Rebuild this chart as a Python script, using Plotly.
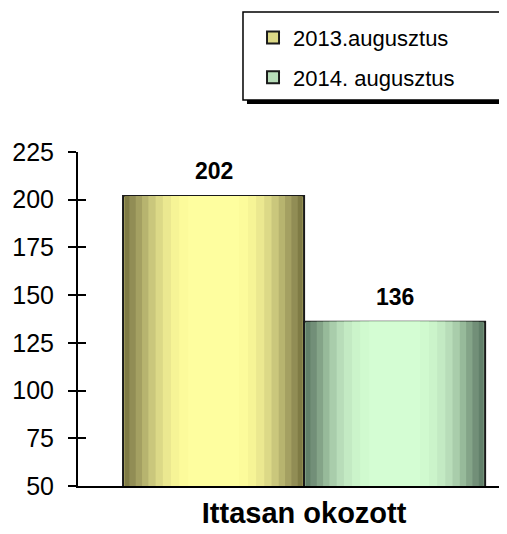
import plotly.graph_objects as go

# data
categories = ["Ittasan okozott"]
series_names = ["2013.augusztus", "2014. augusztus"]
values_2013 = [202]
values_2014 = [136]
y_ticks = [50, 75, 100, 125, 150, 175, 200, 225]

# layered shades to fake the cylinder-like gradient of the original bars
shades_2013 = ["#7f7b45", "#918d55", "#a4a062", "#b7b46f", "#cac77c", "#dcd987",
               "#ebe890", "#f6f496", "#fcfb9b", "#fefe9f"]
shades_2014 = ["#62806a", "#728f78", "#84a488", "#97ba9a", "#a9cdab", "#b8ddb9",
               "#c3eac3", "#cbf4ca", "#d0facf", "#d4fdd3"]
layer_widths = [1.0, 0.93, 0.86, 0.79, 0.72, 0.64, 0.56, 0.47, 0.38, 0.28]

font_main = "Arial, Liberation Sans, sans-serif"
bar_w = 0.422

fig = go.Figure()
annotations = []

for i, (name, vals, shades) in enumerate([(series_names[0], values_2013, shades_2013),
                                         (series_names[1], values_2014, shades_2014)]):
    center = -bar_w / 2 if i == 0 else bar_w / 2
    for k, (lw, col) in enumerate(zip(layer_widths, shades)):
        w = bar_w * lw
        first = k == 0
        fig.add_trace(go.Bar(
            x=categories,
            y=vals,
            name=name,
            legendgroup=name,
            showlegend=first,
            width=w,
            offset=center - w / 2,
            marker=dict(color=shades[5] if first else col,
                        line=dict(color="#1a1a1a" if first else col, width=2 if first else 0)),
            hoverinfo="skip" if not first else None,
        ))
        if first:
            # outer shade inside the border (legend keeps a mid colour)
            fig.add_trace(go.Bar(
                x=categories, y=vals, showlegend=False, width=w - 0.006,
                offset=center - (w - 0.006) / 2,
                marker=dict(color=col, line=dict(width=0)),
                hoverinfo="skip",
            ))
    # value label above the bar
    annotations.append(dict(
        x=center, y=vals[0], xref="x", yref="y",
        text=f"<b>{vals[0]}</b>", showarrow=False,
        yanchor="bottom", yshift=10,
        font=dict(family=font_main, size=23, color="black"),
    ))

# the page body adds an 8px offset, so margins are shifted accordingly
fig.update_layout(
    width=507,
    height=534,
    barmode="overlay",
    plot_bgcolor="white",
    paper_bgcolor="white",
    margin=dict(l=70, r=8, t=144, b=56),
    font=dict(family=font_main, color="black"),
    showlegend=True,
    legend=dict(
        x=0.408, y=1.405, xanchor="left", yanchor="top",
        font=dict(size=22, family=font_main),
        bgcolor="rgba(0,0,0,0)",
        tracegroupgap=8,
    ),
    xaxis=dict(
        range=[-0.527, 0.473],
        showline=True, linecolor="black", linewidth=1.5,
        ticks="", showgrid=False, automargin=False,
        tickfont=dict(size=29, family=font_main, weight="bold"),
    ),
    yaxis=dict(
        range=[50, 225],
        tickvals=y_ticks,
        showline=True, linecolor="black", linewidth=2,
        ticks="outside", ticklen=8, tickwidth=2, tickcolor="black",
        ticklabelstandoff=9, automargin=False,
        showgrid=False, zeroline=False,
        tickfont=dict(size=25, family=font_main),
    ),
    yaxis2=dict(
        range=[50, 225],
        tickvals=y_ticks,
        overlaying="y", side="left", anchor="x",
        showline=False, automargin=False,
        ticks="inside", ticklen=8, tickwidth=2, tickcolor="black",
        showticklabels=False, showgrid=False, zeroline=False,
    ),
    annotations=annotations,
    shapes=[
        # legend shadow and box
        dict(type="rect", xref="paper", yref="paper",
             x0=0.3939, x1=0.9973, y0=1.144, y1=1.407,
             fillcolor="black", line=dict(width=0), layer="below"),
        dict(type="rect", xref="paper", yref="paper",
             x0=0.3846, x1=0.988, y0=1.156, y1=1.419,
             fillcolor="white", line=dict(color="black", width=1.5), layer="below"),
    ],
)

# dummy trace so the inside ticks of yaxis2 are rendered
fig.add_trace(go.Scatter(x=categories, y=[None], yaxis="y2", showlegend=False, hoverinfo="skip"))

fig.write_html("out.html")
